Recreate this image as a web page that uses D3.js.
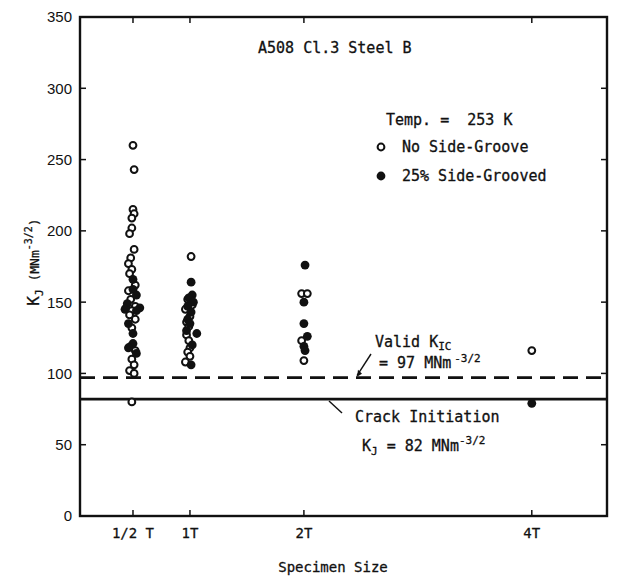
<!DOCTYPE html>
<html>
<head>
<meta charset="utf-8">
<script src="https://cdn.jsdelivr.net/npm/d3@7"></script>
<style>
  body { margin: 0; background: #fff; }
  svg text { fill: #111; white-space: pre; }
  .num { font-family: "Liberation Sans", Arial, sans-serif; font-size: 15px; }
  .lbl { font-family: "DejaVu Sans Mono", monospace; font-size: 14px; stroke: #111; stroke-width: 0.3px; }
  .ann { font-size: 15px; }
</style>
</head>
<body>
<svg></svg>
<script>
const width = 617, height = 577;
const svg = d3.select("svg").attr("width", width).attr("height", height);

// specimen size (T) and K_J values
const sizeTicks = [0.5, 1, 2, 4];
const sizeLabels = ["1/2 T", "1T", "2T", "4T"];
const kTicks = [0, 50, 100, 150, 200, 250, 300, 350];

const noGroove = [
  [0.50, 260], [0.51, 243], [0.50, 215], [0.51, 212], [0.49, 209], [0.49, 202], [0.47, 198],
  [0.51, 187], [0.48, 181], [0.46, 177], [0.49, 173], [0.47, 170], [0.52, 162], [0.46, 158],
  [0.48, 152], [0.52, 147], [0.44, 146], [0.49, 144], [0.47, 141], [0.52, 138], [0.49, 132],
  [0.48, 119], [0.52, 116], [0.49, 110], [0.51, 106], [0.47, 102], [0.51, 100], [0.49, 80],
  [1.01, 182], [0.98, 152], [1.02, 148], [0.96, 145], [1.00, 140], [0.97, 136], [0.99, 133],
  [0.97, 127], [0.99, 123], [1.00, 118], [0.98, 115], [1.00, 112], [0.96, 108],
  [1.98, 156], [2.03, 156], [1.98, 123], [2.00, 109],
  [4.00, 116]
];
const grooved = [
  [0.50, 166], [0.50, 159], [0.53, 155], [0.45, 149], [0.56, 146], [0.53, 144], [0.43, 145],
  [0.46, 135], [0.50, 128], [0.50, 121], [0.46, 118], [0.53, 114],
  [1.01, 164], [1.02, 155], [0.99, 153], [1.03, 150], [0.98, 147], [1.01, 143], [0.98, 138],
  [1.00, 135], [0.97, 130], [1.06, 128], [1.02, 120], [1.01, 106],
  [2.01, 176], [2.00, 150], [2.00, 135], [2.03, 126], [2.00, 119], [2.01, 116],
  [4.00, 79]
];
const validKic = 97;
const crackInit = 82;

const x = d3.scaleLinear().domain([0.035, 4.66]).range([80, 607]);
const y = d3.scaleLinear().domain([0, 350]).range([516, 17]);

// frame
svg.append("rect")
  .attr("x", x.range()[0]).attr("y", y.range()[1])
  .attr("width", x.range()[1] - x.range()[0])
  .attr("height", y.range()[0] - y.range()[1])
  .attr("fill", "none").attr("stroke", "#111").attr("stroke-width", 2.4);

// inward ticks on all four sides
const tl = 6;
svg.append("g").selectAll("line").data(kTicks).join("line")
  .attr("x1", x.range()[0]).attr("x2", x.range()[0] + tl)
  .attr("y1", d => y(d)).attr("y2", d => y(d))
  .attr("stroke", "#111").attr("stroke-width", 1.5);
svg.append("g").selectAll("line").data(kTicks).join("line")
  .attr("x1", x.range()[1]).attr("x2", x.range()[1] - tl)
  .attr("y1", d => y(d)).attr("y2", d => y(d))
  .attr("stroke", "#111").attr("stroke-width", 1.5);
svg.append("g").selectAll("line").data(sizeTicks).join("line")
  .attr("x1", d => x(d)).attr("x2", d => x(d))
  .attr("y1", y.range()[0]).attr("y2", y.range()[0] - tl)
  .attr("stroke", "#111").attr("stroke-width", 1.5);
svg.append("g").selectAll("line").data(sizeTicks).join("line")
  .attr("x1", d => x(d)).attr("x2", d => x(d))
  .attr("y1", y.range()[1]).attr("y2", y.range()[1] + tl)
  .attr("stroke", "#111").attr("stroke-width", 1.5);

// tick labels
svg.append("g").selectAll("text").data(kTicks).join("text")
  .attr("class", "num")
  .attr("x", 72).attr("y", d => y(d)).attr("dy", "0.36em")
  .attr("text-anchor", "end")
  .text(d => d);
svg.append("g").selectAll("text").data(sizeTicks).join("text")
  .attr("class", "lbl")
  .attr("x", d => x(d)).attr("y", 538)
  .attr("text-anchor", "middle")
  .text((d, i) => sizeLabels[i]);

// axis titles
svg.append("text").attr("class", "lbl")
  .attr("x", 333).attr("y", 572).attr("text-anchor", "middle")
  .text("Specimen Size");
const yt = svg.append("text").attr("class", "lbl")
  .attr("transform", "translate(39,262) rotate(-90)")
  .attr("text-anchor", "middle");
yt.append("tspan").attr("font-size", 16).text("K");
yt.append("tspan").attr("dy", 4).attr("font-size", 11).text("J");
yt.append("tspan").attr("dy", -4).attr("font-size", 13).text(" (MNm");
yt.append("tspan").attr("dy", -7).attr("font-size", 10).text("-3/2");
yt.append("tspan").attr("dy", 7).attr("font-size", 13).text(")");

// reference lines
svg.append("line")
  .attr("x1", x.range()[0]).attr("x2", x.range()[1])
  .attr("y1", y(validKic)).attr("y2", y(validKic))
  .attr("stroke", "#111").attr("stroke-width", 2.8)
  .attr("stroke-dasharray", "15,8");
svg.append("line")
  .attr("x1", x.range()[0]).attr("x2", x.range()[1])
  .attr("y1", y(crackInit)).attr("y2", y(crackInit))
  .attr("stroke", "#111").attr("stroke-width", 2.8);

// points
svg.append("g").selectAll("circle").data(noGroove).join("circle")
  .attr("cx", d => x(d[0])).attr("cy", d => y(d[1])).attr("r", 3.4)
  .attr("fill", "#fff").attr("stroke", "#111").attr("stroke-width", 2);
svg.append("g").selectAll("circle").data(grooved).join("circle")
  .attr("cx", d => x(d[0])).attr("cy", d => y(d[1])).attr("r", 4.4)
  .attr("fill", "#111");

// annotations
svg.append("text").attr("class", "lbl ann").attr("x", 258).attr("y", 53).text("A508 Cl.3 Steel B");
svg.append("text").attr("class", "lbl ann").attr("x", 386).attr("y", 125).text("Temp. =  253 K");
svg.append("circle").attr("cx", 381).attr("cy", 147).attr("r", 3.4)
  .attr("fill", "#fff").attr("stroke", "#111").attr("stroke-width", 2);
svg.append("text").attr("class", "lbl ann").attr("x", 402).attr("y", 152).text("No Side-Groove");
svg.append("circle").attr("cx", 381).attr("cy", 176).attr("r", 4.4).attr("fill", "#111");
svg.append("text").attr("class", "lbl ann").attr("x", 402).attr("y", 181).text("25% Side-Grooved");

const vk = svg.append("text").attr("class", "lbl ann").attr("x", 375).attr("y", 347);
vk.append("tspan").text("Valid K");
vk.append("tspan").attr("dy", 3).attr("font-size", 11).text("IC");
const v97 = svg.append("text").attr("class", "lbl ann").attr("x", 379).attr("y", 368);
v97.append("tspan").text("= 97 MNm");
v97.append("tspan").attr("dx", 3).attr("dy", -6).attr("font-size", 11).text("-3/2");
svg.append("line").attr("x1", 371).attr("y1", 354).attr("x2", 357).attr("y2", y(validKic) - 2)
  .attr("stroke", "#111").attr("stroke-width", 1.4);
svg.append("path")
  .attr("d", `M357,${y(validKic) - 1} l1,-7 l4,4 z`)
  .attr("fill", "#111");

svg.append("text").attr("class", "lbl ann").attr("x", 355).attr("y", 422).text("Crack Initiation");
const k82 = svg.append("text").attr("class", "lbl ann").attr("x", 362).attr("y", 451);
k82.append("tspan").text("K");
k82.append("tspan").attr("dy", 4).attr("font-size", 11).text("J");
k82.append("tspan").attr("dy", -4).text(" = 82 MNm");
k82.append("tspan").attr("dy", -7).attr("font-size", 11).text("-3/2");
svg.append("line").attr("x1", 342).attr("y1", 413).attr("x2", 329).attr("y2", y(crackInit) + 2)
  .attr("stroke", "#111").attr("stroke-width", 1.4);
</script>
</body>
</html>
